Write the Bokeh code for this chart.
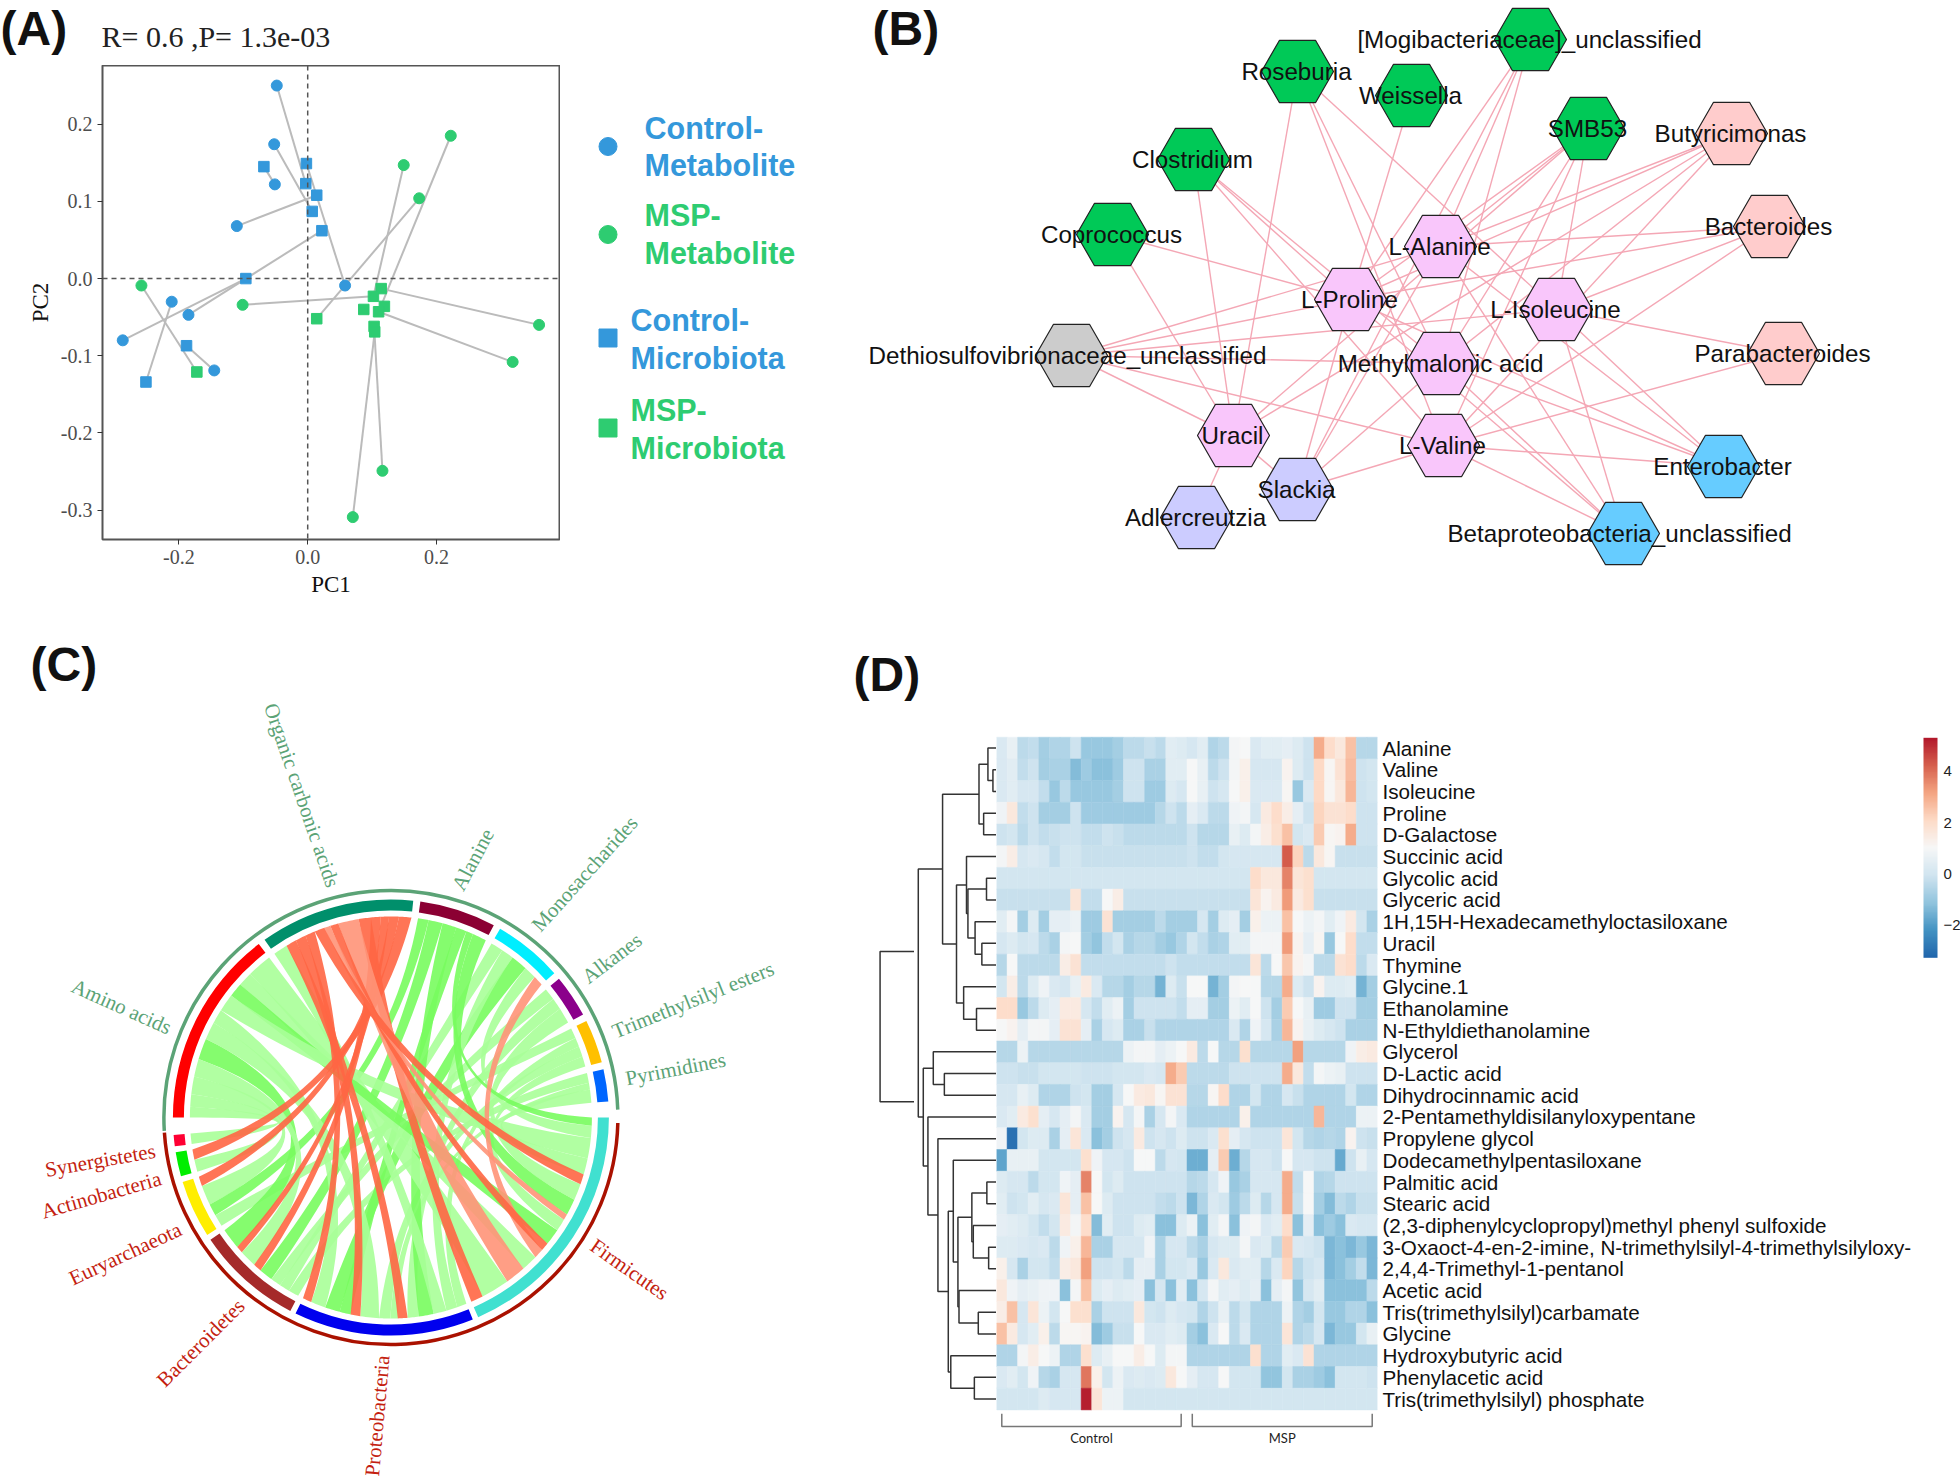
import math
import numpy as np
from bokeh.core.properties import value
from bokeh.embed import file_html
from bokeh.layouts import column, row
from bokeh.models import ColorBar, FixedTicker, LinearColorMapper, Range1d, Span
from bokeh.plotting import figure
from bokeh.resources import INLINE

SERIF = "Liberation Serif"
SANS = "Liberation Sans"

# ---------- panel A data
cm_x = [-.048, -.052, -.051, -.110, .058, -.211, -.185, -.287, -.145]
cm_y = [.250, .174, .122, .068, -.009, -.030, -.047, -.080, -.119]
mm_x = [.222, .149, .173, -.258, -.101, .359, .318, .116, .070]
mm_y = [.185, .147, .104, -.009, -.034, -.060, -.108, -.249, -.309]
cb_x = [-.002, -.068, -.003, .014, .007, .022, -.096, -.188, -.251]
cb_y = [.149, .145, .123, .108, .087, .062, 0, -.087, -.134]
mb_x = [.114, .102, .087, .119, .110, .103, .104, .014, -.172]
mb_y = [-.013, -.023, -.040, -.036, -.043, -.062, -.069, -.052, -.121]
cm_link = [2, 4, 1, 3, 0, 8, 5, 6, 7]
mm_link = [4, 1, 7, 8, 1, 0, 4, 5, 6]
BLUE, GREEN = "#3498DB", "#2ECC71"

# ---------- panel B data
node_names = ["Roseburia", "[Mogibacteriaceae]_unclassified", "Weissella", "SMB53", "Clostridium", "Coprococcus",
              "Butyricimonas", "Bacteroides", "Parabacteroides", "L-Alanine", "L-Proline", "L-Isoleucine",
              "Dethiosulfovibrionaceae_unclassified", "Methylmalonic acid", "Uracil", "L-Valine", "Slackia",
              "Adlercreutzia", "Enterobacter", "Betaproteobacteria_unclassified"]
node_x = [1297, 1530, 1411, 1588, 1193, 1112, 1731, 1769, 1783, 1440, 1350, 1556, 1071, 1441, 1233, 1443, 1297, 1196, 1723, 1623]
node_y = [71, 39, 95, 128, 159, 234, 133, 226, 353, 246, 299, 309, 355, 363, 435, 445, 489, 517, 466, 533]
label_dx = [0, 0, 0, 0, 0, 0, 0, 0, 0, 0, 0, 0, -3, 0, 0, 0, 0, 0, 0, -3]
node_col = ["#00C957"] * 6 + ["#FFCCCC"] * 3 + ["#F9C6FB"] * 3 + ["#CCCCCC", "#F9C6FB", "#F9C6FB", "#F9C6FB",
            "#CCCCFF", "#CCCCFF", "#66CCFF", "#66CCFF"]
edges = [(0, 14), (0, 13), (0, 15), (0, 11), (1, 10), (1, 9), (1, 13), (1, 16), (2, 10), (3, 9), (3, 10), (3, 14), (3, 13),
         (3, 15), (3, 11), (4, 14), (4, 10), (4, 13), (4, 15), (5, 10), (5, 14), (6, 9), (6, 10), (6, 13), (6, 15), (6, 14),
         (7, 9), (7, 10), (7, 11), (7, 15), (8, 11), (8, 15), (12, 9), (12, 10), (12, 11), (12, 13), (12, 15), (12, 14),
         (18, 15), (18, 10), (18, 9), (18, 11), (18, 13), (19, 15), (19, 13), (19, 11), (19, 9), (19, 10), (16, 14), (16, 10),
         (16, 9), (16, 13), (16, 15), (17, 14)]

# ---------- panel C data
met_names = ["Pyrimidines", "Trimethylsilyl esters", "Alkanes", "Monosaccharides", "Alanine", "Organic carbonic acids", "Amino acids"]
met_size = [8.6, 11.6, 11.4, 18.5, 20.4, 41.3, 52.7]
met_col = ["#0066FF", "#FFC000", "#8B008B", "#00EEFF", "#8B0033", "#008F6B", "#FF0000"]
met_lab_ang = [9.4, 21, 35.6, 52.6, 73.8, 104, 158]
met_lab_rot = [11, 22, 37, 48, 62, -71, -24]
bac_names = ["Synergistetes", "Actinobacteria", "Euryarchaeota", "Bacteroidetes", "Proteobacteria", "Firmicutes"]
bac_size = [3, 6.5, 15.4, 28.4, 48, 66.4]
bac_col = ["#FF0033", "#00EE00", "#FFEE00", "#A52A2A", "#0000EE", "#40E0D0"]
bac_lab_ang = [188, 194.7, 207.7, 231, 268, 328]
bac_lab_rot = [10, 16, 25, 45, 85, -35]
link_bac = [0, 1, 1, 2, 2, 2, 2] + [3] * 8 + [4] * 14 + [5] * 16
link_met = [6, 5, 6, 5, 6, 4, 1,
            6, 5, 6, 5, 4, 2, 3, 0,
            5, 6, 3, 4, 5, 6, 1, 0, 5, 2, 4, 5, 3, 1,
            5, 6, 5, 6, 3, 5, 6, 1, 5, 4, 2, 5, 0, 6, 3, 4]
link_val = [3, -3, 3.5, -2.4, 5, 3, 3,
            6, -2, 5, -2.4, 4, 3, 3, 3,
            -2.4, 4, 4, 3, -2.6, 5, 3, 2, -2.6, 3, 4, 3.5, 3, 2.6,
            -3, 7, -5, 4, -2.4, -2, 4, 3, -1.5, 4, 4, -2.5, 4, 5, 3, 2]
link_strong = [0, 1, 0, 1, 0, 1, 0,
               1, 1, 0, 1, 1, 0, 0, 0,
               1, 0, 1, 1, 1, 0, 0, 0, 1, 0, 1, 0, 0, 0,
               1, 0, 0, 0, 0, 1, 1, 0, 0, 1, 0, 1, 0, 0, 0, 1]
# order of the bacteria along each metabolite sector, rising angle
met_bac_order = [[5, 4, 3, 2, 1, 0]] * 5 + [[1, 2, 3, 0, 5, 4]] + [[5, 4, 3, 2, 1, 0]]

# ---------- panel D data
hm_labels = ["Alanine", "Valine", "Isoleucine", "Proline", "D-Galactose", "Succinic acid", "Glycolic acid", "Glyceric acid",
             "1H,15H-Hexadecamethyloctasiloxane", "Uracil", "Thymine", "Glycine.1", "Ethanolamine", "N-Ethyldiethanolamine",
             "Glycerol", "D-Lactic acid", "Dihydrocinnamic acid", "2-Pentamethyldisilanyloxypentane", "Propylene glycol",
             "Dodecamethylpentasiloxane", "Palmitic acid", "Stearic acid", "(2,3-diphenylcyclopropyl)methyl phenyl sulfoxide",
             "3-Oxaoct-4-en-2-imine, N-trimethylsilyl-4-trimethylsilyloxy-", "2,4,4-Trimethyl-1-pentanol", "Acetic acid",
             "Tris(trimethylsilyl)carbamate", "Glycine", "Hydroxybutyric acid", "Phenylacetic acid", "Tris(trimethylsilyl) phosphate"]
hm_values = [
 [.2,.6,-.4,-.3,-.8,-.6,-.6,-.1,-1,-1,-1,-.8,-.4,-.4,-.2,-.4,.4,.3,.1,.4,-.6,-.4,.9,1,.2,.4,.4,.5,.3,-.1,3,2,1.6,2.6,-.5,-.5],
 [.2,.4,-.3,-.1,-.8,-.7,-.7,-1.3,-.9,-1.2,-1.2,-.9,-.1,-.1,-.7,-.7,.4,.4,1,.6,-.4,-.1,.9,1.3,.1,.1,.1,1.2,.3,-.1,2.1,1.1,1.8,2.7,-.1,0],
 [.2,.4,.1,.1,-.3,-1,-.4,-1,-1,-1,-1,-.8,-.1,-.1,-.9,-.9,.3,.1,1,.6,-.1,.1,1,1.3,.2,.2,.2,1.1,-1,.2,2.1,1.1,1.6,2.8,-.1,0],
 [.8,1.6,-.3,-.1,-.8,-.8,-.8,-.1,-.9,-.9,-.9,-.9,-.9,-.9,-.9,-.5,-.1,-.4,.5,.2,-.4,-.4,.8,.9,.1,1.5,2,1.4,.5,-.1,2.2,1.8,1.8,2,-.1,-.1],
 [-.1,0,-.4,-.1,-.3,-.2,-.1,-.1,-.3,-.3,-.1,-.2,-.4,-.4,-.4,-.4,-.4,-.4,-.1,-.5,-.5,-.5,.6,.3,.9,1.4,1.9,2.6,0,.2,2.4,1.1,1.2,3,-.1,-.1],
 [.9,1.4,.1,.2,.1,-.3,0,0,-.2,-.2,-.2,-.2,-.2,-.2,-.2,-.2,-.2,-.2,-.1,-.3,-.3,.0,.1,.1,.1,.1,.1,4.3,2.2,-.4,1.6,1.1,-.2,-.2,-.2,-.2],
 [0,0,0,0,0,0,0,0,0,0,0,0,0,0,0,0,0,0,0,0,0,0,0,0,2,1.6,1.6,3.7,1.7,1.9,0,0,0,0,0,0],
 [-.2,-.2,-.2,-.2,-.2,-.2,-.2,1.7,-.3,-.3,1,1.4,-.2,-.2,-.2,-.2,-.2,-.2,-.2,-.2,-.2,-.2,-.2,-.2,1.7,1.2,1.5,3.3,1.5,1.9,-.2,-.2,-.2,-.2,-.2,-.2],
 [.4,.9,-.8,.3,-.8,.5,.5,.7,-.9,-.9,1.8,-.8,-.8,-.8,-.8,-.4,-.8,-.8,-.8,.1,-.8,.3,.5,-.8,1.3,.7,.7,2.6,1,.7,.9,.4,.8,1.5,0,-.7],
 [.1,.3,0,.1,-.4,-.7,.9,1,-.8,-1.1,-.3,0,-.7,-.5,-.5,-.8,-1,-.6,0,-.3,-.7,-.6,.4,.4,.9,.9,.9,3.3,1.2,.5,1.1,-1,1,2,-.3,-.3],
 [-.5,1,-.4,-.4,-.4,-.4,1.4,1.8,-.3,-.3,-.3,-.3,-.3,-.3,-.3,-.3,-.1,-.3,-.3,-.3,-.3,-.3,-.3,-.3,1.7,-.4,1,2.5,1.2,.9,-.4,-.4,1.8,2,-.4,.2],
 [0,1.4,-.4,.3,.8,.2,.1,.6,1.5,.2,-.5,-.5,-.8,-.5,-.5,-1.5,.3,-.2,1,1,-1.5,-.8,.9,1,1,-.5,-.5,3,.3,-.1,1.2,.3,.3,.4,-1.5,-.8],
 [2,2,-1,-.4,.3,.5,1.5,1.5,.1,-.3,.4,.7,-.8,-.1,-.1,-.1,-.1,-.3,.5,.5,-.8,-.8,.7,.4,1,-.1,-.8,2.4,1,.6,-.9,-.9,-.1,-.1,-.8,-.8],
 [1,1.2,.5,.9,.9,.5,1.8,1.8,.5,-.7,.1,.3,-.7,-.7,-.2,-.6,-.6,-.6,-.6,-.6,-.6,-.6,.2,-.6,.8,.1,-.7,2.8,1.2,.6,.3,.1,-.1,-.7,-.7,-.7],
 [-.5,-.5,.7,-.5,-.5,-.5,-.5,-.5,-.5,-.5,-.5,-.5,.7,.9,.9,.5,.7,1,1.5,-.4,1,-.5,-.5,1.9,-.5,-.5,-.5,-.5,3.2,-.5,-.5,-.5,-.5,.8,1.4,1.5],
 [-.1,-.1,-.2,-.2,0,0,0,0,-.1,-.1,-.1,0,0,0,.2,.1,3,2.4,-.4,-.4,-.4,-.4,-.1,-.1,-.1,-.1,-.1,3,1.6,-.3,.9,.7,.6,-.1,-.1,-.1],
 [.1,.1,.6,.3,-.6,-.6,-.6,-.1,0,-.8,-.8,.1,1,1.5,1.6,1.1,1.8,1.8,-.5,-.5,1.1,2,-.6,-.6,0,-.6,-.6,.1,-.2,-.6,-.6,-.6,-.6,0,-.6,-.6],
 [.2,.4,1.5,1.9,.5,.1,.5,.9,.2,-.8,-.8,1.2,.1,.9,-.7,.1,.9,.2,-.6,-.6,-.6,-.6,-.6,1.3,-.6,-.6,-.6,-.6,-.6,-.6,2.8,-.6,-.6,-.6,.7,.7],
 [.8,-3,0,.3,.3,-.7,.5,1.7,.2,-1.2,-.8,-.1,.1,1.5,-.1,.1,-.1,.3,-.1,-.1,.2,1.9,.5,.1,-.1,-.1,-.1,1.7,0,-.5,-.6,-.5,-.6,1.2,-.1,-.2],
 [-1.8,.6,.6,.6,0,0,0,0,1.9,.8,.1,.1,-.1,1,1,-.4,.1,0,-1.6,-1.6,.5,2.4,-1.6,-.5,.1,.1,-.1,1,.1,.1,-.1,-.1,-1.7,-.1,.6,.1],
 [.3,.1,.1,-.4,0,0,.8,.5,3.7,1,0,.3,-.1,-.1,-.1,-.1,-.1,-.1,-.5,-.4,.1,.8,-1,-.7,.1,.1,.1,3,-.3,1,-.6,-.5,-.1,-.1,-.1,-.1],
 [.4,-.1,0,.4,.1,.2,1.7,.5,2.6,1,.3,-.1,-.1,-.1,-.1,-.3,-.4,-.1,-1.4,-.6,.2,0,-.9,-.4,.3,-.5,.1,3,-.2,1,-.8,-1.3,-.4,-.6,-.2,-.2],
 [.5,.4,.3,0,-.3,0,1.5,.9,2,-1.3,.4,-.1,-.1,.3,.4,-1.2,-1.2,.3,.7,-1.2,.4,.9,-1.2,.8,.9,.2,.4,2,-1.2,.5,-1.2,-.9,-1.2,.2,.1,.1],
 [.3,.3,.2,.1,.2,-.4,.8,1.3,2.8,-.7,-.7,.1,.1,.1,.8,-.7,.1,.1,-.4,-.7,.1,.3,.3,.9,.2,.3,-.4,2.4,.2,.1,-.1,-1.4,-1.2,-1.4,-1,-1.4],
 [1.3,.1,-.7,0,0,-.3,1.4,1.6,3.2,-.1,-.1,0,-.4,.5,.5,-.7,0,0,.2,-1,.2,1.6,.2,.4,.4,-.5,.2,2.2,-.5,-.1,.1,-1.4,-1.2,-.8,-.3,-1.4],
 [1.6,.8,.5,.6,.8,.8,-1.2,.9,2.6,.3,.5,.3,.4,.5,-1.2,.1,-1.2,.4,-1.2,.1,.9,.4,.5,.3,.5,-1.2,.5,.9,-1.1,.1,.4,-1.2,-1.2,-1.2,-1.2,-.4],
 [1.4,2.6,.1,1.7,.7,0,1,1.9,1.9,-.7,-.1,-.1,-.1,1.6,0,-.1,.3,.1,0,-.6,-.1,.6,-.4,0,-.6,-.6,-.6,.7,-.6,-.8,0,-1,-1,-.6,-.6,-1.2],
 [2.6,1.5,.1,.4,1.3,-.4,1.1,1.1,1.2,-1.3,-.9,-.2,-.2,1,.2,.2,.4,.3,-.8,-1.2,.2,1,-.4,.2,-.6,-.6,-.6,1.7,-.6,-.4,.1,-1.4,-1,-1,0,.6],
 [-.6,-.6,.9,1.4,1,.7,-.6,-.6,1.9,.3,.6,1,1,1.4,1,.3,.9,.9,-.6,-.6,-.6,-.6,-.6,-.6,1.9,-.6,-.6,.4,.2,1.8,-.6,-.6,-.6,-.6,-.6,-.6],
 [.2,.4,0,.8,-.5,-.7,.1,.1,3.9,1.3,0,.7,.2,.3,.2,.3,1.6,1,.5,.1,.1,1,0,0,0,-1.1,-1.1,0,-.7,-.7,-.9,-1.2,0,0,0,-.1],
 [0,0,0,0,.3,.1,.1,.1,5.2,1.7,.7,.7,0,0,0,0,0,0,0,0,0,0,0,0,0,0,0,0,0,0,0,0,0,0,0,0],
]
# tree of the rows: (merge height, left child, right child); a number is a row
hm_tree = (219,
           (151,
            (49, (24, 0, (10, 1, 2)), (36, 3, 4)),
            (112,
             (84, 5, (80, (28, 6, 7), (60, 8, (41, 9, 10)))),
             (92, 11, (56, 12, 13)))),
           (205,
            (177, 14, (146, 15, 16)),
            (192, 17,
             (164, 18,
              (135,
               (121, 19,
                (108,
                 (69, (27, 20, 21), (65, 22, (22, 23, 24))),
                 (105, 25, (51, 26, 27)))),
               (128, 28, (62, 29, 30)))))))
root_h = [231, 326]
root_rows = [9.37, 16.3]
group_names = ["Control", "MSP"]
group_start = [0.5, 18.5]
group_end = [17.45, 35.5]
cbar_low, cbar_high = -3.27, 5.31
cbar_ticks = [-2, 0, 2, 4]
rdbu = ["#2166AC", "#4393C3", "#92C5DE", "#D1E5F0", "#F7F7F7", "#FDDBC7", "#F4A582", "#D6604D", "#B2182B"]

H2 = 884


def blank(x0, x1, y0, y1, w, h):
    f = figure(width=w, height=h, x_range=Range1d(x0, x1), y_range=Range1d(y0, y1), toolbar_location=None,
               output_backend="svg", x_axis_location=None, y_axis_location=None, min_border=0, outline_line_color=None)
    f.grid.visible = False
    return f


def panel_label(f, text, x, y):
    f.text([x], [y], text=[text], text_font=value(SANS), text_font_style="bold", text_font_size="48px",
           text_align="left", text_baseline="middle", text_color="#111111")


# ---------- A: heading strip, then the axes
ps = blank(0, 560, 65, 0, 560, 65)
panel_label(ps, "(A)", 0, 27.5)
ps.text([101], [36], text=["R= 0.6 ,P= 1.3e-03"], text_font=value(SERIF), text_font_size="30px", text_baseline="middle",
        text_color="#222222")
pa = figure(width=560, height=535, x_range=Range1d(-.3184, .3907), y_range=Range1d(-.338, .276), toolbar_location=None,
            output_backend="svg", min_border_left=102, min_border_top=0, min_border_bottom=61, min_border_right=1,
            x_axis_label="PC1", y_axis_label="PC2")
pa.grid.visible = False
pa.outline_line_color = "#555555"
pa.outline_line_width = 2
pa.xaxis.ticker = FixedTicker(ticks=[-.2, 0, .2])
pa.yaxis.ticker = FixedTicker(ticks=[-.3, -.2, -.1, 0, .1, .2])
pa.xaxis.major_label_overrides = {-.2: "-0.2", 0: "0.0", .2: "0.2"}
pa.yaxis.major_label_overrides = {-.3: "-0.3", -.2: "-0.2", -.1: "-0.1", 0: "0.0", .1: "0.1", .2: "0.2"}
for ax in (pa.xaxis[0], pa.yaxis[0]):
    ax.axis_line_color = None
    ax.major_tick_line_color = "#333333"
    ax.major_tick_in = 0
    ax.major_tick_out = 5
    ax.minor_tick_line_color = None
    ax.major_label_text_font = SERIF
    ax.major_label_text_font_size = "20px"
    ax.major_label_text_color = "#4D4D4D"
    ax.axis_label_text_font = SERIF
    ax.axis_label_text_font_size = "23px"
    ax.axis_label_text_font_style = "normal"
    ax.axis_label_text_color = "#111111"
pa.add_layout(Span(location=0, dimension="width", line_color="#555555", line_dash="5 4", line_width=1.5))
pa.add_layout(Span(location=0, dimension="height", line_color="#555555", line_dash="5 4", line_width=1.5))
pa.segment(cm_x, cm_y, [cb_x[j] for j in cm_link], [cb_y[j] for j in cm_link], line_color="#BBBBBB", line_width=2)
pa.segment(mm_x, mm_y, [mb_x[j] for j in mm_link], [mb_y[j] for j in mm_link], line_color="#BBBBBB", line_width=2)
pa.scatter(cm_x, cm_y, marker="circle", size=11, color=BLUE)
pa.scatter(mm_x, mm_y, marker="circle", size=11, color=GREEN)
pa.scatter(cb_x, cb_y, marker="square", size=10.5, color=BLUE)
pa.scatter(mb_x, mb_y, marker="square", size=10.5, color=GREEN)

# ---------- legend of A
leg_marks = ["circle", "circle", "square", "square"]
leg_cols = [BLUE, GREEN, BLUE, GREEN]
leg_my = [146, 234, 337.5, 427.5]
leg_t1 = ["Control-", "MSP-", "Control-", "MSP-"]
leg_t2 = ["Metabolite", "Metabolite", "Microbiota", "Microbiota"]
leg_tx = [644, 644, 630, 630]
leg_y1 = [127, 214.5, 319.5, 409.5]
leg_y2 = [164.5, 252, 357, 447]
pl = blank(560, 840, 600, 0, 280, 600)
pl.scatter([607.5] * 4, leg_my, marker=leg_marks, size=18, color=leg_cols)
for txt, ys in ((leg_t1, leg_y1), (leg_t2, leg_y2)):
    pl.text(leg_tx, ys, text=txt, text_color=leg_cols, text_font=value(SANS), text_font_style="bold",
            text_font_size="30.5px", text_baseline="middle")

# ---------- B
pb = blank(840, 1952, 600, 0, 1112, 600)
pb.segment([node_x[a] for a, b in edges], [node_y[a] for a, b in edges], [node_x[b] for a, b in edges], [node_y[b] for a, b in edges],
           line_color="#F4A7B5", line_width=1.4)
pb.scatter(node_x, node_y, marker="hex", size=72, fill_color=node_col, line_color="#222222", line_width=1.2)
pb.text([a + b for a, b in zip(node_x, label_dx)], node_y, text=node_names, text_font=value(SANS), text_font_size="24.2px",
        text_align="center", text_baseline="middle", text_color="#111111", x_offset=-1, y_offset=0)
panel_label(pb, "(B)", 872, 27.5)

# ---------- C
CX, CY = 390.4, 359.0
pc = blank(0, 840, -8, 876, 840, H2)
angle = 4.2
met_start, bac_start = [], []
for s in met_size:
    met_start.append(angle)
    angle += s + (180 - 4.2 - sum(met_size)) / 6
angle = 184.6
gap_b = (360 - 184.6 - sum(bac_size)) / 5
for s in bac_size:
    bac_start.append(angle)
    angle += s + gap_b


def ring(starts, sizes, cols):
    pc.annular_wedge([CX] * len(starts), [CY] * len(starts), 207, 218, starts, [a + b for a, b in zip(starts, sizes)],
                     start_angle_units="deg", end_angle_units="deg", fill_color=cols, line_color=None)


ring(met_start, met_size, met_col)
ring(bac_start, bac_size, bac_col)
pc.arc(CX, CY, 227, 2, 183.4, start_angle_units="deg", end_angle_units="deg", line_color="#5BA376", line_width=3.5)
pc.arc(CX, CY, 227, 183.8, 358.6, start_angle_units="deg", end_angle_units="deg", line_color="#AA1100", line_width=3.5)


def spans(keys, vals, starts, sizes, order=None):
    """Angular stretch of every link on its sector: in table order, or ranked by the other end."""
    out = [None] * len(keys)
    for k in range(len(starts)):
        idx = [i for i, m in enumerate(keys) if m == k]
        total = sum(abs(vals[i]) for i in idx)
        if order:
            idx = sorted(idx, key=lambda i: order[k].index(link_bac[i]))
        a = starts[k]
        for i in idx:
            w = abs(vals[i]) / total * sizes[k]
            out[i] = (a, a + w)
            a += w
    return out


mspan = spans(link_met, link_val, met_start, met_size, met_bac_order)
bspan = spans(link_bac, link_val, bac_start, bac_size)
R = 201.0


def pol(a):
    return R * math.cos(math.radians(a)), R * math.sin(math.radians(a))


def curve(p0, p1, xs, ys, k):
    c = (k * (p0[0] + p1[0]) / 2, k * (p0[1] + p1[1]) / 2)
    for t in np.linspace(0, 1, 30):
        xs.append((1 - t) ** 2 * p0[0] + 2 * t * (1 - t) * c[0] + t ** 2 * p1[0])
        ys.append((1 - t) ** 2 * p0[1] + 2 * t * (1 - t) * c[1] + t ** 2 * p1[1])


def ribbon(ms, bs, k):
    xs, ys = [], []
    for a in np.linspace(ms[0], ms[1], 8):
        p = pol(a); xs.append(p[0]); ys.append(p[1])
    curve(pol(ms[1]), pol(bs[0]), xs, ys, k)
    for a in np.linspace(bs[0], bs[1], 8):
        p = pol(a); xs.append(p[0]); ys.append(p[1])
    curve(pol(bs[1]), pol(ms[0]), xs, ys, k)
    return [CX + v for v in xs], [CY + v for v in ys]


greens = [i for i, v in enumerate(link_val) if v > 0]
reds = [i for i, v in enumerate(link_val) if v < 0]
for group, light, strong, bend in ((greens, "#A8FF98", "#78FC5E", 0.12), (reds, "#FF9478", "#FF6644", 0.3)):
    paths = [ribbon(mspan[i], bspan[i], bend) for i in group]
    pc.patches([q[0] for q in paths], [q[1] for q in paths],
               fill_color=[strong if link_strong[i] else light for i in group], fill_alpha=0.9, line_color=None)


def ring_labels(names, angs, rots, col):
    xs = [CX + 238 * math.cos(math.radians(a)) for a in angs]
    ys = [CY + 238 * math.sin(math.radians(a)) for a in angs]
    al = ["left" if math.cos(math.radians(a)) > 0 else "right" for a in angs]
    pc.text(xs, ys, text=names, angle=rots, angle_units="deg", text_align=al, text_baseline="middle", text_color=col,
            text_font=value(SERIF), text_font_size="21px")


ring_labels(met_names, met_lab_ang, met_lab_rot, "#5BA376")
ring_labels(bac_names, bac_lab_ang, bac_lab_rot, "#C41E10")
panel_label(pc, "(C)", 30, 876 - 64)

# ---------- D
RH = 21.7
TOP = 136.7
row_lo = -TOP / RH - .5
row_hi = (H2 - TOP) / RH - .5
pd_ = blank(436.8, 0, row_hi, row_lo, 156, H2)
dx, dy = [], []


def walk(n):
    if isinstance(n, int):
        return 0, n
    h, l, r = n
    hl, yl = walk(l)
    hr, yr = walk(r)
    dx.append([hl, h, h, hr])
    dy.append([yl, yl, yr, yr])
    return h, (yl + yr) / 2


walk(hm_tree)
dx.append([root_h[0], root_h[1], root_h[1], root_h[0]])
dy.append([root_rows[0], root_rows[0], root_rows[1], root_rows[1]])
pd_.multi_line(dx, dy, line_color="#333333", line_width=1.5)
panel_label(pd_, "(D)", (996 - 853) * 2.8, (74 - TOP) / RH - .5)

stops = np.array([[int(c[i:i + 2], 16) for i in (1, 3, 5)] for c in rdbu], dtype=float)
pal = []
for t in np.linspace(0, len(rdbu) - 1, 256):
    k = min(int(t), len(rdbu) - 2)
    c = stops[k] + (stops[k + 1] - stops[k]) * (t - k)
    pal.append("#%02X%02X%02X" % tuple(int(round(v)) for v in c))
mapper = LinearColorMapper(palette=pal, low=cbar_low, high=cbar_high)

# heat frame 381 wide + label side 543 = 924; colour bar figure fills 1920..1960
ph = figure(width=924, height=H2, x_range=Range1d(0, 36), y_range=Range1d(row_hi, row_lo), toolbar_location=None,
            output_backend="svg", x_axis_location=None, y_axis_location="right", min_border_left=0, min_border_top=0,
            min_border_bottom=0, min_border_right=543, outline_line_color=None)
ph.grid.visible = False
cx, cy, cv = [], [], []
for i, r_ in enumerate(hm_values):
    for j, v in enumerate(r_):
        cx.append(j + .5); cy.append(i); cv.append(v)
tr = {"field": "v", "transform": mapper}
ph.rect("x", "y", 1.0, 1.0, source={"x": cx, "y": cy, "v": cv}, fill_color=tr, line_color=tr, line_width=0.5)
ph.yaxis.ticker = FixedTicker(ticks=list(range(len(hm_labels))))
ph.yaxis.major_label_overrides = {i: t for i, t in enumerate(hm_labels)}
ph.yaxis.axis_line_color = None
ph.yaxis.major_tick_line_color = None
ph.yaxis.major_tick_out = 0
ph.yaxis.major_tick_in = 0
ph.yaxis.minor_tick_line_color = None
ph.yaxis.major_label_text_font = SANS
ph.yaxis.major_label_text_font_size = "20.65px"
ph.yaxis.major_label_text_color = "#111111"
ph.yaxis.major_label_standoff = 5
by0, by1 = 30.68, 31.27
ph.multi_line([[a, a, b, b] for a, b in zip(group_start, group_end)], [[by0, by1, by1, by0] for _ in group_names],
              line_color="#777777", line_width=1.5)
ph.text([(a + b) / 2 for a, b in zip(group_start, group_end)], [31.8, 31.8], text=group_names, text_align="center",
        text_baseline="middle", text_font=value("Lato"), text_font_size="13px", text_color="#222222")

pk = blank(0, 40, 0, H2, 40, H2)
cb = ColorBar(color_mapper=mapper, ticker=FixedTicker(ticks=cbar_ticks), width=14, height=220, padding=0, margin=0,
              location=(3, H2 - 957.3 + 600), major_tick_line_color=None, minor_tick_line_color=None, bar_line_color=None,
              major_label_text_font=SANS, major_label_text_font_size="15px", major_label_text_color="#222222",
              background_fill_color=None, border_line_color=None, label_standoff=6)
pk.add_layout(cb)

left_top = column(column(ps), column(pa), spacing=0)
root = column(row(left_top, column(pl), column(pb), spacing=0), row(pc, pd_, ph, pk, spacing=0), spacing=0)
open("out.html", "w").write(file_html(root, INLINE))
